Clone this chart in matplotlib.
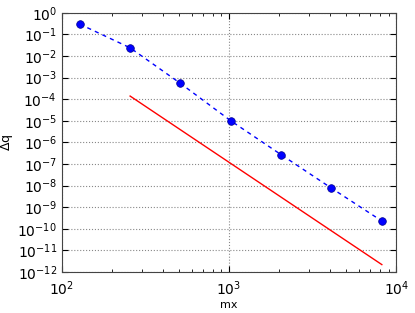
import matplotlib
matplotlib.use('Agg')
import matplotlib.pyplot as plt
import matplotlib.ticker as ticker
import numpy as np

# measured error vs grid size
mx = [128, 256, 512, 1024, 2048, 4096, 8192]
dq = [3.0e-1, 2.4e-2, 5.4e-4, 1.0e-5, 2.7e-7, 7.6e-9, 2.3e-10]

# reference slope line
mx_ref = [256, 8192]
dq_ref = [1.4e-4, 2.2e-12]

fig = plt.figure(figsize=(4.15, 3.13), dpi=100)
ax = fig.add_axes([0.149, 0.131, 0.806, 0.828])

ax.loglog(mx, dq, 'o--', color='blue', markersize=5.5, dashes=(3, 3),
          markeredgecolor='#00008b', markeredgewidth=0.5, linewidth=1.0)
ax.loglog(mx_ref, dq_ref, '-', color='red', linewidth=1.0)

ax.set_xlim(1e2, 1e4)
ax.set_ylim(1e-12, 1e0)
ax.yaxis.set_major_locator(ticker.LogLocator(base=10, numticks=20))
ax.yaxis.set_minor_locator(ticker.NullLocator())

ax.grid(True, which='major', linestyle=':', color='#888888', linewidth=0.8)
ax.tick_params(which='both', direction='in', top=True, right=True, labelsize=10)
ax.tick_params(which='major', length=4)
ax.tick_params(which='minor', length=2)
ax.tick_params(axis='x', pad=5)
for s in ax.spines.values():
    s.set_color('#444444')

ax.set_xlabel('mx', fontsize=8, labelpad=2)
ax.set_ylabel('$\\Delta$q', fontsize=9, labelpad=2)

fig.savefig('out.png', dpi=100, facecolor='white')
